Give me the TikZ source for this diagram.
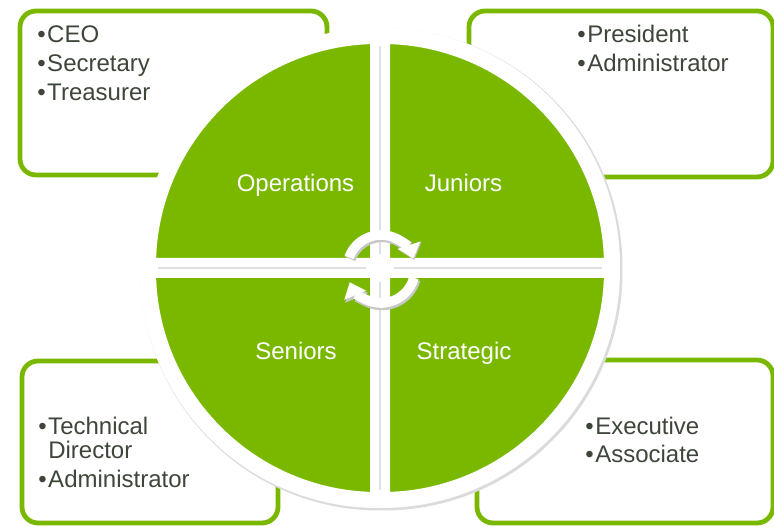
\documentclass[tikz,border=0pt]{standalone}
\usepackage{fontspec}
\setmainfont{Liberation Sans}
\usetikzlibrary{arrows.meta}

\definecolor{leaf}{RGB}{122,184,0}
\definecolor{ink}{RGB}{62,70,58}
\newcommand{\itemdot}{\llap{\textbullet\hspace{1.2pt}}}

\begin{document}
\begin{tikzpicture}[
    x=0.75pt, y=0.75pt,
    infobox/.style={draw=leaf, line width=3.6pt, fill=white, rounded corners=12pt},
    quarter/.style={fill=leaf, draw=white, line width=12pt, line join=round},
    qshade/.style={fill=black!22, draw=black!14, line width=13.5pt, line join=round},
    gapshade/.style={draw=black!12, line width=1.2pt},
    qlabel/.style={text=white, font=\fontsize{18}{21}\selectfont, anchor=base, inner sep=0pt},
    item/.style={text=ink, font=\fontsize{18}{21}\selectfont, anchor=base west, inner sep=0pt},
    turnshade/.style={draw=black!22, line width=8.5pt, -{Triangle[length=11.5pt, width=18pt]}},
    turn/.style={draw=white, line width=7.2pt, -{Triangle[length=10.5pt, width=17pt]}}
]
\useasboundingbox (0,0) rectangle (774,527);

% Boxes
\draw[infobox] (20,352) rectangle (327,516);
\draw[infobox] (469,350) rectangle (773,516);
\draw[infobox] (22,4) rectangle (278,166);
\draw[infobox] (477,4) rectangle (773,167);

% Box texts
\node[item] (ceo) at (47,484) {\itemdot CEO};
\node[item] (secretary) at (47,455) {\itemdot Secretary};
\node[item] (treasurer) at (47,426) {\itemdot Treasurer};

\node[item] (president) at (587,484) {\itemdot President};
\node[item] (admin1) at (587,455) {\itemdot Administrator};

\node[item] (technical) at (48,92) {\itemdot Technical};
\node[item] (director) at (48,68) {Director};
\node[item] (admin2) at (48,39) {\itemdot Administrator};

\node[item] (executive) at (595,92) {\itemdot Executive};
\node[item] (associate) at (595,64) {\itemdot Associate};

% Circle quarters
\coordinate (hub) at (380,259);
\foreach \a/\dx/\dy in {90/-2/2, 0/2/2, 180/-2/-2, 270/2/-2} {
    \filldraw[qshade] ([shift={(\dx+1.5,\dy-1.5)}]hub) -- ++(\a:230)
        arc[start angle=\a, delta angle=90, radius=230] -- cycle;
}
\foreach \a/\dx/\dy in {90/-2/2, 0/2/2, 180/-2/-2, 270/2/-2} {
    \filldraw[quarter] ([shift={(\dx,\dy)}]hub) -- ++(\a:230)
        arc[start angle=\a, delta angle=90, radius=230] -- cycle;
}
\foreach \a in {0,90,180,270} {
    \draw[gapshade] ([shift={(\a:14)}]hub) -- ([shift={(\a:222)}]hub);
}

% Quarter labels
\node[qlabel] (operations) at (295.5,335) {Operations};
\node[qlabel] (juniors) at (463.5,335) {Juniors};
\node[qlabel] (seniors) at (296,167) {Seniors};
\node[qlabel] (strategic) at (464,167) {Strategic};

% Cycle arrows
\coordinate (spin) at (381,258);
\draw[turnshade] ([shift={(160:34)}]spin) ++(1,-1.5) arc[start angle=160, end angle=18, radius=34];
\draw[turnshade] ([shift={(-15:34)}]spin) ++(1,-1.5) arc[start angle=-15, end angle=-157, radius=34];
\draw[turn] ([shift={(160:34)}]spin) arc[start angle=160, end angle=18, radius=34];
\draw[turn] ([shift={(-15:34)}]spin) arc[start angle=-15, end angle=-157, radius=34];

\end{tikzpicture}
\end{document}
